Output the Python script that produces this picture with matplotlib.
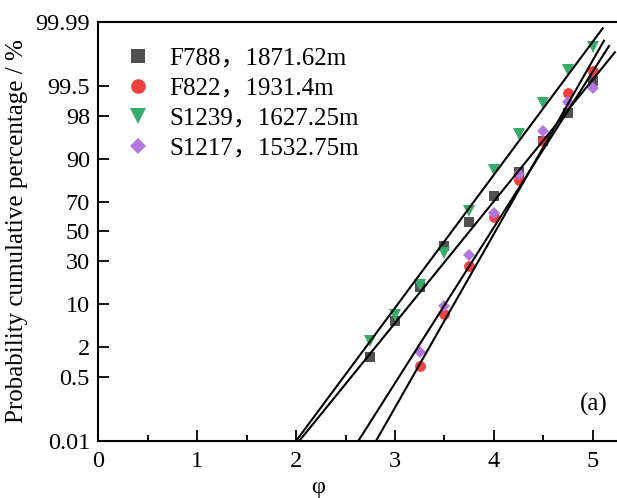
import numpy as np
import matplotlib
matplotlib.use('Agg')
import matplotlib.pyplot as plt
from matplotlib.ticker import MultipleLocator, NullLocator
from statistics import NormalDist

plt.rcParams['font.family'] = ['Liberation Serif', 'Noto Sans CJK SC']

# ---------------- data ----------------
series_labels = ['F788，1871.62m', 'F822，1931.4m', 'S1239，1627.25m', 'S1217，1532.75m']

f788_phi = [2.75, 3.0, 3.25, 3.5, 3.75, 4.0, 4.25, 4.5, 4.75, 5.0]
f788_pct = [1.3, 5.7, 16.4, 39.9, 56.9, 73.8, 85.6, 94.5, 98.25, 99.63]

f822_phi = [3.25, 3.5, 3.75, 4.0, 4.25, 4.5, 4.75, 5.0]
f822_pct = [0.85, 7.1, 27.2, 59.9, 82.0, 94.5, 99.29, 99.785]

s1239_phi = [2.75, 3.0, 3.25, 3.5, 3.75, 4.0, 4.25, 4.5, 4.75, 5.0]
s1239_pct = [2.6, 6.8, 17.1, 34.9, 64.2, 86.3, 95.9, 98.89, 99.79, 99.948]

s1217_phi = [3.25, 3.5, 3.75, 4.0, 4.25, 4.5, 4.75, 5.0]
s1217_pct = [1.64, 9.3, 33.8, 62.7, 84.5, 96.3, 98.94, 99.45]

# fitted straight lines in probit space: z = slope * phi + intercept
fit_slope = [2.162, 3.083, 2.363, 2.766]
fit_intercept = [-8.112, -12.376, -8.445, -10.991]
fit_phi_end = [5.224, 5.113, 5.10, 5.164]

y_ticks = [0.01, 0.5, 2, 10, 30, 50, 70, 90, 98, 99.5, 99.99]
y_tick_labels = ['0.01', '0.5', '2', '10', '30', '50', '70', '90', '98', '99.5', '99.99']
x_ticks = [0, 1, 2, 3, 4, 5]

colors = ['#515151', '#F14040', '#37AD6B', '#B177DE']
markers = ['s', 'o', 'v', 'D']
msizes = [7.4, 7.8, 8.6, 5.9]

# ---------------- probability (probit) scale ----------------
_nd = NormalDist()
_ppf = np.vectorize(_nd.inv_cdf, otypes=[float])
_cdf = np.vectorize(_nd.cdf, otypes=[float])


def fwd(p):
    p = np.clip(np.asarray(p, dtype=float), 1e-9, 100 - 1e-9)
    return _ppf(p / 100.0)


def inv(z):
    return _cdf(np.asarray(z, dtype=float)) * 100.0


fig = plt.figure(figsize=(6.17, 4.98), dpi=100)
ax = fig.add_axes([0.1593, 0.1145, 0.8407, 0.8413])
ax.set_yscale('function', functions=(fwd, inv))

xs = [f788_phi, f822_phi, s1239_phi, s1217_phi]
ys = [f788_pct, f822_pct, s1239_pct, s1217_pct]

z_low = -4.0
for a, b, pe in zip(fit_slope, fit_intercept, fit_phi_end):
    ps = (z_low - b) / a
    lx = np.array([ps, pe])
    lz = a * lx + b
    ax.plot(lx, inv(lz), color='black', lw=1.5, zorder=3, clip_on=True)

handles = []
for x, y, c, m, ms, lab in zip(xs, ys, colors, markers, msizes, series_labels):
    h, = ax.plot(x, y, linestyle='none', marker=m, color=c, markersize=ms,
                 markeredgewidth=0, label=lab, zorder=2)
    handles.append(h)

ax.set_xlim(0, 5.245)
ax.set_ylim(0.01, 99.99)
ax.set_yticks(y_ticks)
ax.set_yticklabels(y_tick_labels)
ax.yaxis.set_minor_locator(NullLocator())
ax.set_xticks(x_ticks)
ax.xaxis.set_minor_locator(MultipleLocator(0.5))

ax.tick_params(axis='both', which='both', direction='in', labelsize=17.5, width=1.3)
ax.tick_params(axis='both', which='major', length=8)
ax.tick_params(axis='both', which='minor', length=4)
ax.tick_params(axis='y', pad=6)
ax.tick_params(axis='x', pad=7)
ax.tick_params(top=False, right=False)

for s in ['left', 'bottom', 'top']:
    ax.spines[s].set_linewidth(1.5)
ax.spines['right'].set_visible(False)

ax.set_ylabel('Probability cumulative percentage / %', fontsize=18, labelpad=5)
ax.set_xlabel('φ', fontsize=17.5)
ax.xaxis.set_label_coords(0.424, -0.085)

leg = ax.legend(handles=handles, loc='upper left', bbox_to_anchor=(0.053, 0.94),
                frameon=False, markerscale=1.35, handlelength=1.0,
                handletextpad=0.75, labelspacing=0.3, borderaxespad=0,
                borderpad=0, fontsize=18)

ax.text(0.981, 0.086, '(a)', transform=ax.transAxes, ha='right', va='center',
        fontsize=18)

fig.savefig('out.png', dpi=100)
